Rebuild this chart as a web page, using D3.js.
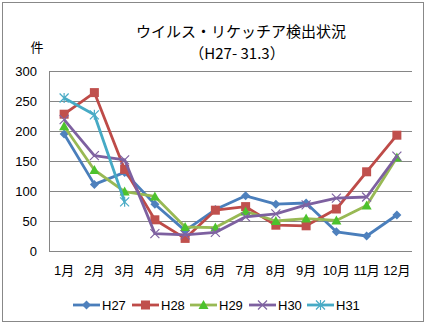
<!DOCTYPE html>
<html><head><meta charset="utf-8">
<script src="https://cdn.jsdelivr.net/npm/d3@7"></script>
<style>body{margin:0;background:#fff}svg{display:block}text{font-family:"Liberation Sans","Noto Sans CJK JP",sans-serif}</style>
</head><body><svg id="c" width="427" height="325"></svg>
<script>
const months = ["1月","2月","3月","4月","5月","6月","7月","8月","9月","10月","11月","12月"];
const seriesNames = ["H27","H28","H29","H30","H31"];
const H27 = [195,111,131,78,34,69,92,78,80,32,25,60];
const H28 = [228,264,136,52,21,68,74,43,42,70,132,193];
const H29 = [208,135,99,91,40,39,66,50,54,51,76,156];
const H30 = [219,159,152,29,27,31,57,62,77,88,90,158];
const H31 = [255,227,82];
const yTicks = [0,50,100,150,200,250,300];

const data = [H27,H28,H29,H30,H31];
const colors = ["#4A7EBB","#BE4B48","#98B954","#7D60A0","#46AAC5"];
const markerFill = ["#4F81BD","#C0504D","#4DC22D","#8064A2","#4BACC6"];
const svg = d3.select("#c");
svg.append("rect").attr("x",2.5).attr("y",2.5).attr("width",421).attr("height",319).attr("fill","#fff").attr("stroke","#888");

const L=49,R=412,T=71,B=251;
const x = d3.scaleBand().domain(months).range([L,R]);
const y = d3.scaleLinear().domain([0,300]).range([B,T]);

const g = svg.append("g");
g.selectAll("line.grid").data(yTicks).join("line")
 .attr("x1",L).attr("x2",R).attr("y1",d=>Math.round(y(d))+0.5).attr("y2",d=>Math.round(y(d))+0.5)
 .attr("stroke","#868686").attr("stroke-width",1);
g.append("line").attr("x1",L+0.5).attr("x2",L+0.5).attr("y1",T).attr("y2",B+0.5).attr("stroke","#868686");

const yAxis = d3.axisLeft(y).tickValues(yTicks).tickSize(0).tickPadding(12);
const ya = svg.append("g").attr("transform",`translate(${L},0)`).call(yAxis);
ya.select(".domain").remove();
ya.selectAll("text").attr("font-size",13).attr("fill","#000");

const xAxis = d3.axisBottom(x).tickSize(0).tickPadding(12);
const xa = svg.append("g").attr("transform",`translate(0,${B})`).call(xAxis);
xa.select(".domain").remove();
xa.selectAll("text").attr("font-size",13).attr("fill","#000").attr("dy","0.9em");

svg.append("text").attr("x",37).attr("y",52).attr("text-anchor","middle").attr("font-size",13).text("件");
svg.append("text").attr("x",241).attr("y",37).attr("text-anchor","middle").attr("font-size",15).text("ウイルス・リケッチア検出状況");
svg.append("text").attr("x",237).attr("y",59).attr("text-anchor","middle").attr("font-size",15)
  .style("font-family","'Noto Sans CJK JP',sans-serif").text("（H27- 31.3）");

function marker(sel,i,cx,cy){
  const c=markerFill[i];
  if(i===0) sel.append("path").attr("d",`M${cx},${cy-4.5}L${cx+4.5},${cy}L${cx},${cy+4.5}L${cx-4.5},${cy}Z`).attr("fill",c);
  else if(i===1) sel.append("rect").attr("x",cx-4.5).attr("y",cy-4.5).attr("width",9).attr("height",9).attr("fill",c);
  else if(i===2) sel.append("path").attr("d",`M${cx},${cy-5}L${cx+5},${cy+4}L${cx-5},${cy+4}Z`).attr("fill",c);
  else if(i===3) sel.append("path").attr("d",`M${cx-4.5},${cy-4.5}L${cx+4.5},${cy+4.5}M${cx+4.5},${cy-4.5}L${cx-4.5},${cy+4.5}`).attr("stroke",c).attr("stroke-width",1.2);
  else sel.append("path").attr("d",`M${cx-4.5},${cy-4.5}L${cx+4.5},${cy+4.5}M${cx+4.5},${cy-4.5}L${cx-4.5},${cy+4.5}M${cx},${cy-5}L${cx},${cy+5}`).attr("stroke",c).attr("stroke-width",1.2);
}

const line = d3.line().x((d,i)=>x(months[i])+x.bandwidth()/2).y(d=>y(d));
data.forEach((s,i)=>{
  svg.append("path").attr("d",line(s)).attr("fill","none").attr("stroke",colors[i]).attr("stroke-width",2.8).attr("stroke-linejoin","round");
  const mg=svg.append("g");
  s.forEach((v,j)=>marker(mg,i,x(months[j])+x.bandwidth()/2,y(v)));
});

const lx=[73,132,190,249,307];
seriesNames.forEach((n,i)=>{
  const ly=305;
  svg.append("line").attr("x1",lx[i]).attr("x2",lx[i]+27).attr("y1",ly).attr("y2",ly).attr("stroke",colors[i]).attr("stroke-width",2.8);
  marker(svg,i,lx[i]+13.5,ly);
  svg.append("text").attr("x",lx[i]+29).attr("y",ly+5).attr("font-size",13).text(n);
});
</script></body></html>
